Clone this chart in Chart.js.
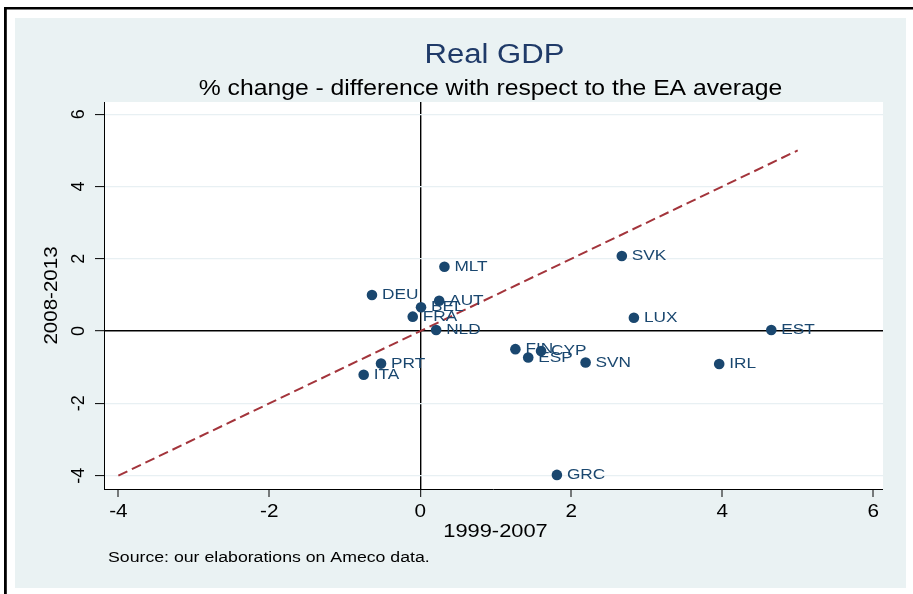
<!DOCTYPE html>
<html>
<head>
<meta charset="utf-8">
<title>Real GDP</title>
<script src="https://cdn.jsdelivr.net/npm/chart.js@4/dist/chart.umd.min.js"></script>
<style>
  html, body { margin: 0; padding: 0; background: #ffffff; }
  canvas { display: block; }
</style>
</head>
<body>
<canvas id="c" width="913" height="594" style="width:913px;height:594px"></canvas>
<script>
// Country codes and their real GDP growth gaps vs. the euro-area average
const countries = ['MLT', 'DEU', 'AUT', 'BEL', 'FRA', 'NLD', 'PRT', 'ITA', 'FIN',
                   'CYP', 'ESP', 'SVN', 'SVK', 'LUX', 'EST', 'IRL', 'GRC'];
// 1999-2007 difference (x axis)
const gap9907 = [0.32, -0.64, 0.25, 0.01, -0.10, 0.21, -0.52, -0.75, 1.26,
                 1.60, 1.43, 2.19, 2.67, 2.83, 4.65, 3.96, 1.81];
// 2008-2013 difference (y axis)
const gap0813 = [1.78, 1.00, 0.84, 0.66, 0.40, 0.03, -0.90, -1.21, -0.50,
                 -0.55, -0.73, -0.87, 2.08, 0.37, 0.03, -0.91, -3.98];
// 45-degree reference line end points
const diagX = [-4, 5];
const diagY = [-4, 5];
// Axis tick labels
const xTicks = [-4, -2, 0, 2, 4, 6];
const yTicks = [-4, -2, 0, 2, 4, 6];

const FONT = '"Liberation Sans", Arial, Helvetica, sans-serif';
const NAVY = '#1a476f';
const STRETCH = 1.15;

function drawText(ctx, text, x, y, size, color, align, baseline, sx, rot) {
  ctx.save();
  ctx.translate(x, y);
  if (rot) ctx.rotate(rot);
  ctx.scale(sx || 1, 1);
  ctx.font = size + 'px ' + FONT;
  ctx.fillStyle = color;
  ctx.textAlign = align;
  ctx.textBaseline = baseline;
  ctx.fillText(text, 0, 0);
  ctx.restore();
}

const pagePlugin = {
  id: 'page',
  beforeDraw(chart) {
    const ctx = chart.ctx;
    const a = chart.chartArea;
    ctx.save();
    ctx.fillStyle = '#ffffff';
    ctx.fillRect(0, 0, chart.width, chart.height);
    // graph region
    ctx.fillStyle = '#eaf2f3';
    ctx.fillRect(15, 18, 891, 570);
    // outer frame strokes
    ctx.fillStyle = '#000000';
    ctx.fillRect(4, 7, chart.width - 4, 2.5);
    ctx.fillRect(4, 7, 2.8, chart.height - 7);
    // plot region
    ctx.fillStyle = '#ffffff';
    ctx.fillRect(a.left, a.top, a.right - a.left, a.bottom - a.top);
    ctx.restore();
  },
  afterDraw(chart) {
    const ctx = chart.ctx;
    const a = chart.chartArea;
    const xs = chart.scales.x, ys = chart.scales.y;
    const cx = (a.left + a.right) / 2;

    // point labels
    const meta = chart.getDatasetMeta(0);
    meta.data.forEach((pt, i) => {
      drawText(ctx, countries[i], pt.x + 10, pt.y, 15, NAVY, 'left', 'middle', STRETCH);
    });

    // x tick labels
    xTicks.forEach(v => {
      drawText(ctx, String(v), xs.getPixelForValue(v), 512, 18, '#000', 'center', 'middle', STRETCH);
    });
    // y tick labels, vertical
    yTicks.forEach(v => {
      drawText(ctx, String(v), 79, ys.getPixelForValue(v), 18, '#000', 'center', 'middle', 1, -Math.PI / 2);
    });

    // axis titles
    drawText(ctx, '1999-2007', cx + 2, 532, 19, '#000', 'center', 'middle', STRETCH);
    drawText(ctx, '2008-2013', 52, (a.top + a.bottom) / 2, 19, '#000', 'center', 'middle', 1.08, -Math.PI / 2);

    // titles
    drawText(ctx, 'Real GDP', cx + 1, 63, 27, '#1f3a68', 'center', 'alphabetic', STRETCH);
    drawText(ctx, '% change - difference with respect to the EA average', cx - 3, 95, 21.5, '#000', 'center', 'alphabetic', STRETCH);

    // note
    drawText(ctx, 'Source: our elaborations on Ameco data.', 108, 562, 15.4, '#000', 'left', 'alphabetic', STRETCH);
  }
};

const points = countries.map((c, i) => ({ x: gap9907[i], y: gap0813[i] }));
const diag = diagX.map((x, i) => ({ x: x, y: diagY[i] }));

new Chart(document.getElementById('c'), {
  type: 'scatter',
  data: {
    datasets: [
      {
        label: 'countries',
        data: points,
        pointRadius: 5.3,
        pointHoverRadius: 5.3,
        pointBackgroundColor: NAVY,
        pointBorderWidth: 0,
        showLine: false,
        order: 1
      },
      {
        label: '45-degree line',
        data: diag,
        showLine: true,
        borderColor: '#a3343b',
        borderWidth: 2,
        borderDash: [10, 5],
        pointRadius: 0,
        fill: false,
        order: 2
      }
    ]
  },
  options: {
    responsive: false,
    devicePixelRatio: 1,
    animation: false,
    layout: { padding: { left: 0, top: 102, right: 30, bottom: 0 } },
    plugins: {
      legend: { display: false },
      tooltip: { enabled: false },
      title: { display: false }
    },
    scales: {
      x: {
        type: 'linear',
        min: -4.19,
        max: 6.13,
        afterBuildTicks(scale) { scale.ticks = xTicks.map(v => ({ value: v })); },
        afterFit(scale) { scale.height = 105; },
        ticks: { display: false },
        grid: {
          drawOnChartArea: true,
          color: c => (c.tick && c.tick.value === 0 ? '#000000' : 'rgba(0,0,0,0)'),
          lineWidth: c => (c.tick && c.tick.value === 0 ? 1.4 : 0),
          drawTicks: true,
          tickLength: 8,
          tickColor: '#000000',
          tickWidth: 1
        },
        border: { display: true, color: '#000000', width: 1 }
      },
      y: {
        type: 'linear',
        min: -4.37,
        max: 6.34,
        afterBuildTicks(scale) { scale.ticks = yTicks.map(v => ({ value: v })); },
        afterFit(scale) { scale.width = 104; },
        ticks: { display: false },
        grid: {
          drawOnChartArea: true,
          color: c => (c.tick && c.tick.value === 0 ? '#000000' : '#e8f0f3'),
          lineWidth: c => (c.tick && c.tick.value === 0 ? 1.4 : 1.2),
          drawTicks: true,
          tickLength: 9,
          tickColor: '#000000',
          tickWidth: 1
        },
        border: { display: true, color: '#000000', width: 1 }
      }
    }
  },
  plugins: [pagePlugin]
});
</script>
</body>
</html>
